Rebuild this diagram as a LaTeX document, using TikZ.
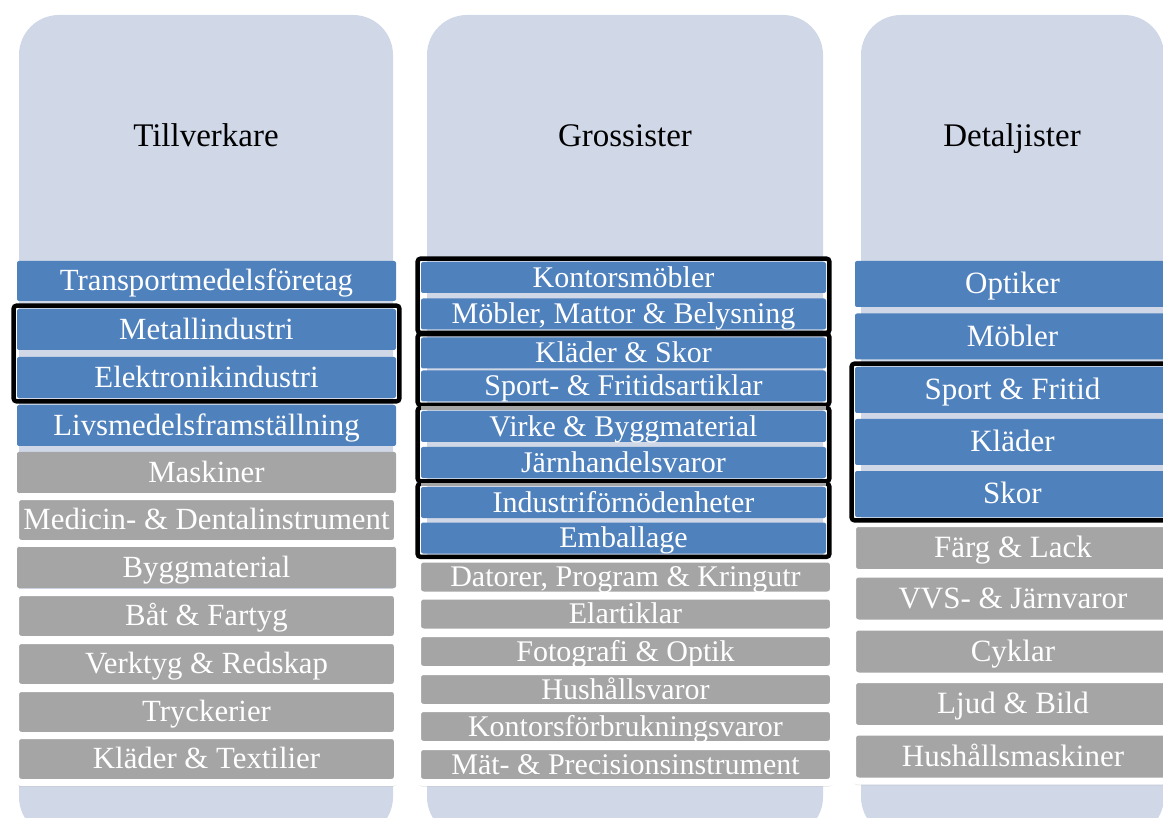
\documentclass[tikz,border=0pt]{standalone}
\usepackage{fontspec}
\setmainfont{Liberation Serif}
\usetikzlibrary{fit,shadows}
\definecolor{bgblue}{HTML}{D0D8E8}
\definecolor{boxblue}{HTML}{4F81BD}
\definecolor{boxgrey}{HTML}{A5A5A5}

\begin{document}
\begin{tikzpicture}[x=0.5pt,y=-0.5pt,
  colbg/.style={fill=bgblue,rounded corners=20pt},
  hdr/.style={font=\fontsize{16.5}{20}\selectfont,anchor=base},
  cell/.style={inner sep=0pt,text=white,font=\fontsize{15}{18}\selectfont,text height=11.6pt,text depth=2pt},
  bluecell/.style={cell,fill=boxblue,rounded corners=1pt},
  greycell/.style={cell,fill=boxgrey,rounded corners=1pt},
  framedcell/.style={cell,fill=boxgrey,draw=white,line width=3.5pt,rounded corners=3pt,
    drop shadow={opacity=0.18,shadow xshift=0pt,shadow yshift=-2.2pt}},
  grpframe/.style={draw=black,line width=2.2pt,rounded corners=1.5pt,inner sep=1.5pt},
  tillw/.style={minimum width=189.5pt,minimum height=20.5pt,font=\fontsize{15.4}{18}\selectfont},
  tillf/.style={minimum width=191pt,minimum height=23.5pt,font=\fontsize{15.4}{18}\selectfont},
  grossw/.style={minimum width=202.5pt,minimum height=15.5pt},
  grossf/.style={minimum width=208pt,minimum height=18pt},
  detw/.style={minimum width=157.5pt,minimum height=23pt,font=\fontsize{15.5}{18}\selectfont},
  detf/.style={minimum width=160.5pt,minimum height=24.5pt,font=\fontsize{15.5}{18}\selectfont}]

\useasboundingbox (0,0) rectangle (1163,818);
\clip (0,0) rectangle (1163,818);

\fill[colbg] (19,15) rectangle (393,837);
\fill[colbg] (427,15) rectangle (823,837);
\fill[colbg] (861,15) rectangle (1164,837);

\node[hdr] (tillv) at (206,146.7) {Tillverkare};
\node[hdr] (gross) at (625,146.7) {Grossister};
\node[hdr] (detalj) at (1012,146.7) {Detaljister};

% Tillverkare
\node[bluecell,tillw,minimum height=20pt] (transport) at (206.5,281) {Transportmedelsföretag};
\node[bluecell,tillw] (metall) at (206.5,329.5) {Metallindustri};
\node[bluecell,tillw] (elektro) at (206.5,377.5) {Elektronikindustri};
\node[bluecell,tillw] (livsmedel) at (206.5,425.5) {Livsmedelsframställning};
\node[greycell,tillw] (maskiner) at (206.5,472.5) {Maskiner};
\node[framedcell,tillf] (medicin) at (206.5,520) {Medicin- \& Dentalinstrument};
\node[greycell,tillw] (byggmat) at (206.5,567.5) {Byggmaterial};
\node[framedcell,tillf] (bat) at (206.5,616) {Båt \& Fartyg};
\node[framedcell,tillf] (verktyg) at (206.5,664) {Verktyg \& Redskap};
\node[framedcell,tillf] (tryck) at (206.5,712) {Tryckerier};
\node[framedcell,tillf] (textil) at (206.5,759) {Kläder \& Textilier};
\node[grpframe,fit=(metall)(elektro)] (metfr) {};

% Grossister
\node[bluecell,grossw] (kontor) at (623.5,277.5) {Kontorsmöbler};
\node[bluecell,grossw] (mobler) at (623.5,314) {Möbler, Mattor \& Belysning};
\node[bluecell,grossw] (kladskor) at (623.5,353) {Kläder \& Skor};
\node[bluecell,grossw] (sport) at (623.5,386) {Sport- \& Fritidsartiklar};
\node[bluecell,grossw] (virke) at (623.5,426.5) {Virke \& Byggmaterial};
\node[bluecell,grossw] (jarn) at (623.5,462.5) {Järnhandelsvaror};
\node[bluecell,grossw] (industri) at (623.5,502.5) {Industriförnödenheter};
\node[bluecell,grossw] (emballage) at (623.5,538) {Emballage};
\node[framedcell,grossf] (datorer) at (625.5,577) {Datorer, Program \& Kringutr};
\node[framedcell,grossf] (elart) at (625.5,614) {Elartiklar};
\node[framedcell,grossf] (foto) at (625.5,651.5) {Fotografi \& Optik};
\node[framedcell,grossf] (hushall) at (625.5,689.5) {Hushållsvaror};
\node[framedcell,grossf] (kontforb) at (625.5,726.5) {Kontorsförbrukningsvaror};
\node[framedcell,grossf] (matprec) at (625.5,764.5) {Mät- \& Precisionsinstrument};
\node[grpframe,fit=(kontor)(mobler)] (grfr1) {};
\node[grpframe,fit=(kladskor)(sport)] (grfr2) {};
\node[grpframe,fit=(virke)(jarn)] (grfr3) {};
\node[grpframe,fit=(industri)(emballage)] (grfr4) {};
\fill[boxgrey] (421,406) rectangle (826,410);
\fill[boxgrey] (421,483) rectangle (826,486);

% Detaljister
\node[bluecell,detw] (optiker) at (1012.5,284) {Optiker};
\node[bluecell,detw] (mobler3) at (1012.5,336.5) {Möbler};
\node[bluecell,detw] (sportfri) at (1012.5,390) {Sport \& Fritid};
\node[bluecell,detw] (klader3) at (1012.5,442) {Kläder};
\node[bluecell,detw] (skor) at (1012.5,494) {Skor};
\node[framedcell,detf] (farg) at (1013,548) {Färg \& Lack};
\node[framedcell,detf] (vvs) at (1013,598.5) {VVS- \& Järnvaror};
\node[framedcell,detf] (cyklar) at (1013,651.5) {Cyklar};
\node[framedcell,detf] (ljud) at (1013,704) {Ljud \& Bild};
\node[framedcell,detf] (hushmask) at (1013,756.5) {Hushållsmaskiner};
\node[grpframe,fit=(sportfri)(skor)] (detfr) {};
\end{tikzpicture}
\end{document}
